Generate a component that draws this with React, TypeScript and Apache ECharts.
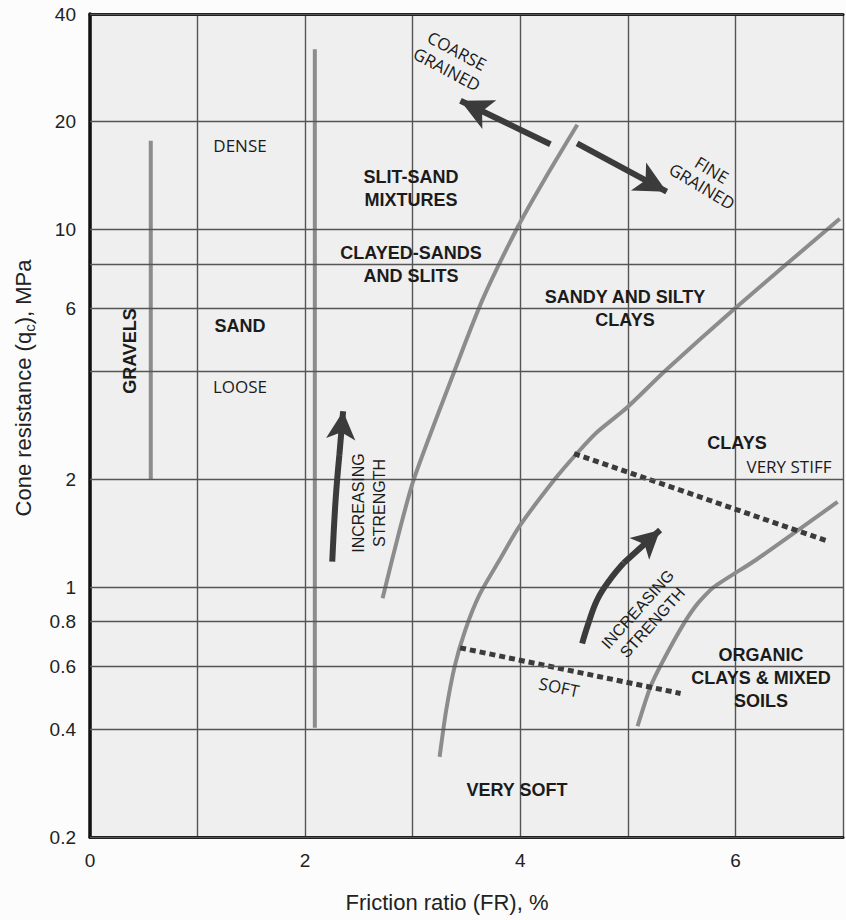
import React, { useEffect, useRef } from "react";
import * as echarts from "echarts";

// ---- data (Friction ratio %, Cone resistance MPa) ----
const xTickValues = [0, 1, 2, 3, 4, 5, 6, 7];
const xLabelValues = [0, 2, 4, 6];
const yGridValues = [0.2, 0.4, 0.6, 0.8, 1, 2, 4, 6, 8, 10, 20, 40];
const yLabelValues = [0.2, 0.4, 0.6, 0.8, 1, 2, 6, 10, 20, 40];

const gravelsLine = [[0.565, 2.0], [0.565, 17.7]];
const sandLine = [[2.09, 0.404], [2.09, 31.9]];
const boundarySand = [[2.72, 0.93], [2.87, 1.41], [3.01, 2.0], [3.39, 4.03], [3.65, 6.37], [3.98, 10.2], [4.22, 13.7], [4.53, 19.6]];
const boundaryClay = [[3.25, 0.335], [3.31, 0.45], [3.39, 0.6], [3.49, 0.76], [3.62, 0.95], [3.8, 1.18], [3.99, 1.475], [4.32, 2.0], [4.53, 2.37], [4.72, 2.72], [4.99, 3.17], [5.35, 4.03], [6.0, 6.03], [6.97, 10.7]];
const boundaryOrganic = [[5.09, 0.408], [5.21, 0.526], [5.33, 0.624], [5.52, 0.79], [5.65, 0.9], [5.8, 1.0], [6.19, 1.19], [6.95, 1.73]];
const veryStiffLine = [[4.5, 2.36], [6.84, 1.35]];
const softLine = [[3.44, 0.676], [5.49, 0.504]];
const leftArrowShaft = [[2.252, 1.177], [2.283, 1.75], [2.318, 2.34]];
const leftArrowHead = [[2.318, 2.34], [2.353, 3.1]];
const rightArrowShaft = [[4.575, 0.695], [4.628, 0.783], [4.714, 0.92], [4.831, 1.046], [4.961, 1.167]];
const rightArrowHead = [[4.961, 1.167], [5.3, 1.443]];
const coarseArrow = [[4.28, 17.3], [3.444, 22.88]];
const fineArrow = [[4.528, 17.4], [5.361, 12.74]];

const AXIS_FONT = "'Liberation Sans', Arial, Helvetica, sans-serif";
const HUMAN_FONT = "'Open Sans', 'Noto Sans', sans-serif";
const BOLD = `bold 18px ${AXIS_FONT}`;
const THIN = `17px ${HUMAN_FONT}`;
const SMALL = `16px ${AXIS_FONT}`;

const curveColor = "#8c8c8c";
const darkColor = "#3b3b3b";

const curve = (name: string, data: number[][], smooth: number | boolean = 0.25) => ({
  type: "line",
  name,
  data,
  smooth,
  symbol: "none",
  showSymbol: false,
  silent: true,
  z: 3,
  lineStyle: { color: curveColor, width: 4 },
});

const dashed = (name: string, data: number[][]) => ({
  type: "line",
  name,
  data,
  symbol: "none",
  showSymbol: false,
  silent: true,
  z: 4,
  lineStyle: { color: darkColor, width: 5, type: [6, 4], cap: "butt" },
});

const shaft = (name: string, data: number[][]) => ({
  type: "line",
  name,
  data,
  smooth: 0.4,
  symbol: "none",
  showSymbol: false,
  silent: true,
  z: 5,
  lineStyle: { color: darkColor, width: 6, cap: "butt" },
});

const arrow = (name: string, coords: number[][], head: number[]) => ({
  type: "lines",
  name,
  coordinateSystem: "cartesian2d",
  xAxisIndex: 0,
  yAxisIndex: 0,
  silent: true,
  z: 5,
  symbol: ["none", "arrow"],
  symbolSize: [1, head],
  lineStyle: { color: darkColor, width: 6, opacity: 1, curveness: 0 },
  data: [{ coords }],
});

const txt = (text: string, x: number, y: number, font: string, rotation = 0, lineHeight = 23, fill = "#1b1b1b") => ({
  type: "text",
  x,
  y,
  rotation,
  silent: true,
  z: 100,
  style: {
    text,
    font,
    fill,
    align: "center",
    verticalAlign: "middle",
    textAlign: "center",
    textVerticalAlign: "middle",
    lineHeight,
  },
});

const option: any = {
  animation: false,
  backgroundColor: "#fcfcfc",
  grid: { left: 90, right: 0, top: 14, bottom: 83, show: true, backgroundColor: "#efefef", borderWidth: 0 },
  xAxis: [
    {
      type: "value",
      min: 0,
      max: 7,
      interval: 1,
      axisLine: { show: true, onZero: false, lineStyle: { color: "#111", width: 3 } },
      axisTick: { show: false },
      axisLabel: {
        formatter: (v: number) => (xLabelValues.includes(v) && xTickValues.includes(v) ? String(v) : ""),
        fontSize: 19,
        color: "#222",
        margin: 14,
        fontFamily: AXIS_FONT,
      },
      splitLine: { show: true, lineStyle: { color: "#555", width: 1.4 } },
    },
    {
      type: "value",
      position: "top",
      min: 0,
      max: 7,
      axisLine: { show: true, onZero: false, lineStyle: { color: "#111", width: 3 } },
      axisTick: { show: false },
      axisLabel: { show: false },
      splitLine: { show: false },
    },
  ],
  yAxis: {
    type: "log",
    logBase: 10,
    min: 0.2,
    max: 40,
    axisLine: { show: true, onZero: false, lineStyle: { color: "#111", width: 3.5 } },
    axisTick: { show: false },
    axisLabel: { show: false },
    splitLine: { show: false },
  },
  series: [
    {
      type: "line",
      name: "grid",
      data: [[0, 1]],
      symbol: "none",
      showSymbol: false,
      silent: true,
      z: 1,
      lineStyle: { opacity: 0 },
      markLine: {
        silent: true,
        symbol: "none",
        animation: false,
        lineStyle: { color: "#555", width: 1.4, type: "solid" },
        label: { position: "start", distance: 14, fontSize: 19, color: "#222", fontFamily: AXIS_FONT },
        data: yGridValues.map((v) => ({
          yAxis: v,
          label: { show: yLabelValues.includes(v), formatter: String(v) },
        })),
      },
    },
    curve("gravels", gravelsLine, false),
    curve("sand", sandLine, false),
    curve("sandBoundary", boundarySand),
    curve("clayBoundary", boundaryClay),
    curve("organicBoundary", boundaryOrganic, 0.2),
    dashed("veryStiff", veryStiffLine),
    dashed("soft", softLine),
    shaft("leftShaft", leftArrowShaft),
    arrow("leftHead", leftArrowHead, [22, 28]),
    shaft("rightShaft", rightArrowShaft),
    arrow("rightHead", rightArrowHead, [22, 28]),
    arrow("coarse", coarseArrow, [24, 32]),
    arrow("fine", fineArrow, [24, 32]),
  ],
  graphic: [
    txt("DENSE", 240, 145, THIN),
    txt("SAND", 240, 326, BOLD),
    txt("LOOSE", 240, 386, THIN),
    txt("GRAVELS", 130, 351, BOLD, Math.PI / 2),
    txt("SLIT-SAND\nMIXTURES", 411, 188.5, BOLD),
    txt("CLAYED-SANDS\nAND SLITS", 411, 264, BOLD),
    txt("SANDY AND SILTY\nCLAYS", 625, 308.5, BOLD),
    txt("CLAYS", 737, 443, BOLD),
    txt("VERY STIFF", 789, 466, THIN),
    txt("ORGANIC\nCLAYS & MIXED\nSOILS", 761, 678, BOLD),
    txt("VERY SOFT", 517, 790, BOLD),
    txt("SOFT", 559, 687, THIN, -0.208),
    txt("INCREASING\nSTRENGTH", 369, 503, SMALL, Math.PI / 2, 21),
    txt("INCREASING\nSTRENGTH", 645, 616, SMALL, 0.838, 20),
    txt("COARSE\nGRAINED", 452, 60, THIN, -0.49, 21),
    txt("FINE\nGRAINED", 707, 178, THIN, -0.54, 19),
    txt("Friction ratio (FR), %", 447, 902, `22px ${AXIS_FONT}`, 0, 26, "#222"),
    {
      type: "text",
      x: 23,
      y: 388,
      rotation: Math.PI / 2,
      silent: true,
      z: 100,
      style: {
        text: "Cone resistance (q{s|c}), MPa",
        font: `22px ${AXIS_FONT}`,
        fontSize: 22,
        fontFamily: AXIS_FONT,
        fill: "#222",
        align: "center",
        verticalAlign: "middle",
        textAlign: "center",
        textVerticalAlign: "middle",
        lineHeight: 27,
        rich: {
          s: { fontSize: 15, fontFamily: AXIS_FONT, fill: "#222", verticalAlign: "bottom", lineHeight: 27 },
        },
      },
    },
  ],
};

export default function App() {
  const ref = useRef<HTMLDivElement>(null);
  useEffect(() => {
    if (!ref.current) return;
    const chart = echarts.init(ref.current, null, { renderer: "svg" });
    chart.setOption(option);
    return () => chart.dispose();
  }, []);
  return (
    <div
      ref={ref}
      style={{ position: "fixed", left: 0, top: 0, width: 846, height: 920, background: "#fcfcfc" }}
    />
  );
}
